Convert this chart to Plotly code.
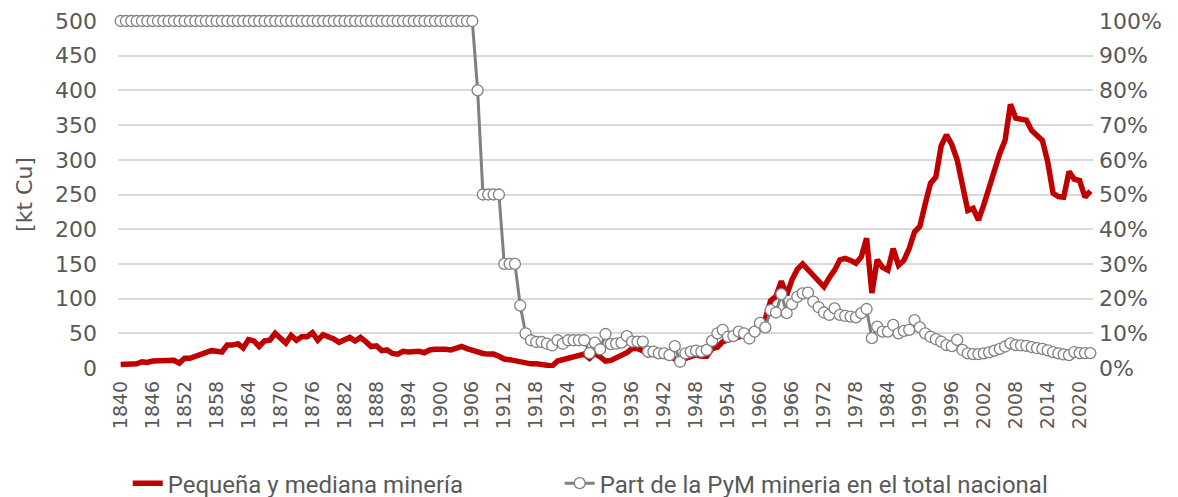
import plotly.graph_objects as go

years = list(range(1840, 2023))

pym_kt = [
    5, 5, 5, 6, 9, 8, 10, 10, 10, 10,
    11, 7, 14, 14, 17, 21, 23, 25, 24, 23,
    33, 33, 35, 29, 41, 39, 31, 39, 40, 50,
    43, 36, 47, 40, 45, 45, 51, 40, 48, 46,
    42, 37, 40, 44, 39, 44, 38, 31, 32, 25,
    26, 21, 20, 24, 23, 23, 24, 22, 26, 27,
    28, 27, 26, 29, 31, 28, 25, 23, 21, 20,
    20, 17, 13, 12, 10, 8, 7, 6, 6, 5,
    4, 3, 10, 13, 14, 16, 17, 20, 14, 21,
    16, 10, 11, 14, 18, 22, 28, 28, 25, 19,
    20, 22, 20, 18, 13, 10, 14, 17, 19, 17,
    17, 28, 30, 38, 40, 41, 45, 47, 52, 55,
    66, 71, 97, 103, 125, 105, 127, 142, 150, 142,
    132, 124, 117, 130, 141, 156, 158, 155, 151, 160,
    187, 108, 156, 145, 141, 172, 148, 155, 172, 196,
    204, 236, 266, 275, 320, 336, 322, 300, 265, 227,
    230, 213, 235, 261, 286, 309, 328, 380, 360, 359,
    357, 342, 336, 328, 297, 252, 247, 246, 283, 272,
    270, 246, 255,
]

share_pct = (
    [100] * 67 +
    [80, 50, 50, 50, 50, 30, 30, 30, 18, 10,
     8, 7.5, 7.5, 7, 6.5, 8, 7, 8, 8, 8, 8,
     4.3, 7.3, 5.4, 9.8, 6.9, 7, 7.3, 9.2, 7.6, 7.6, 7.6,
     4.7, 4.7, 4.2, 4.2, 3.7, 6.3, 1.8, 4.2, 4.7, 5.0, 4.7,
     5.2, 7.8, 10, 11, 9, 9.2, 10.5, 10, 8.5, 10.5,
     13, 11.7, 16.7, 16, 21.3, 15.8, 18.4, 20.5, 21.5, 21.7,
     19.1, 17.5, 16, 15.3, 17.2, 15.3, 15, 14.8, 14.6, 15.8,
     17, 8.6, 11.9, 10.5, 10.5, 12.4, 10, 10.7, 11, 13.8,
     11.7, 10, 9, 8.3, 7.6, 6.6, 6.3, 8.1, 5.2, 4.2,
     4, 4, 4.2, 4.5, 5, 5.5, 6.2, 7.1, 6.6, 6.5,
     6.4, 6, 5.7, 5.5, 5.1, 4.6, 4.2, 3.9, 3.7, 4.6,
     4.3, 4.3, 4.3]
)
share = [v / 100 for v in share_pct]

tick_years = list(range(1840, 2023, 6))
tick_text = [str(y) for y in tick_years]

name_red = "Pequeña y mediana minería"
name_gray = "Part de la PyM mineria en el total nacional"

FONT = "DejaVu Sans"
TXT = "#595959"
LEG_FONT = dict(family="Roboto", size=24, color=TXT)

fig = go.Figure()
fig.add_trace(go.Scatter(
    x=years, y=pym_kt, name=name_red, mode="lines",
    line=dict(color="#C00000", width=5.5),
    yaxis="y", legend="legend", cliponaxis=False,
))
fig.add_trace(go.Scatter(
    x=years, y=share, name=name_gray, mode="lines+markers",
    line=dict(color="#808080", width=3),
    marker=dict(symbol="circle", size=11, color="white",
                line=dict(color="#808080", width=1.3)),
    yaxis="y2", legend="legend2", cliponaxis=False,
))

fig.update_layout(
    width=1178, height=497,
    margin=dict(l=110, r=93, t=13, b=137, autoexpand=False),
    paper_bgcolor="white", plot_bgcolor="white",
    font=dict(family=FONT, color=TXT),
    showlegend=True,
    legend=dict(
        orientation="h", x=0.01, xanchor="left", y=-0.333, yanchor="middle",
        font=LEG_FONT, bgcolor="rgba(0,0,0,0)",
    ),
    legend2=dict(
        orientation="h", x=0.453, xanchor="left", y=-0.333, yanchor="middle",
        font=LEG_FONT, bgcolor="rgba(0,0,0,0)",
    ),
    xaxis=dict(
        range=[1839.5, 2022.5], automargin=False,
        tickmode="array", tickvals=tick_years, ticktext=tick_text,
        tickangle=-90, tickfont=dict(family=FONT, size=19, color=TXT),
        ticklabelstandoff=8,
        showgrid=False, zeroline=False, showline=False, ticks="",
    ),
    yaxis=dict(
        range=[0, 500], dtick=50, automargin=False,
        tickfont=dict(family=FONT, size=22, color=TXT),
        ticklabelstandoff=20,
        title=dict(text="[kt Cu]", font=dict(family=FONT, size=22, color=TXT), standoff=16),
        showgrid=True, gridcolor="#D9D9D9", gridwidth=1.5,
        zeroline=False, showline=False, ticks="",
    ),
    yaxis2=dict(
        range=[0, 1], dtick=0.1, tickformat=".0%", automargin=False,
        overlaying="y", side="right",
        tickfont=dict(family=FONT, size=22, color=TXT),
        ticklabelstandoff=5,
        showgrid=False, zeroline=False, showline=False, ticks="",
    ),
)

fig.write_html("out.html")
